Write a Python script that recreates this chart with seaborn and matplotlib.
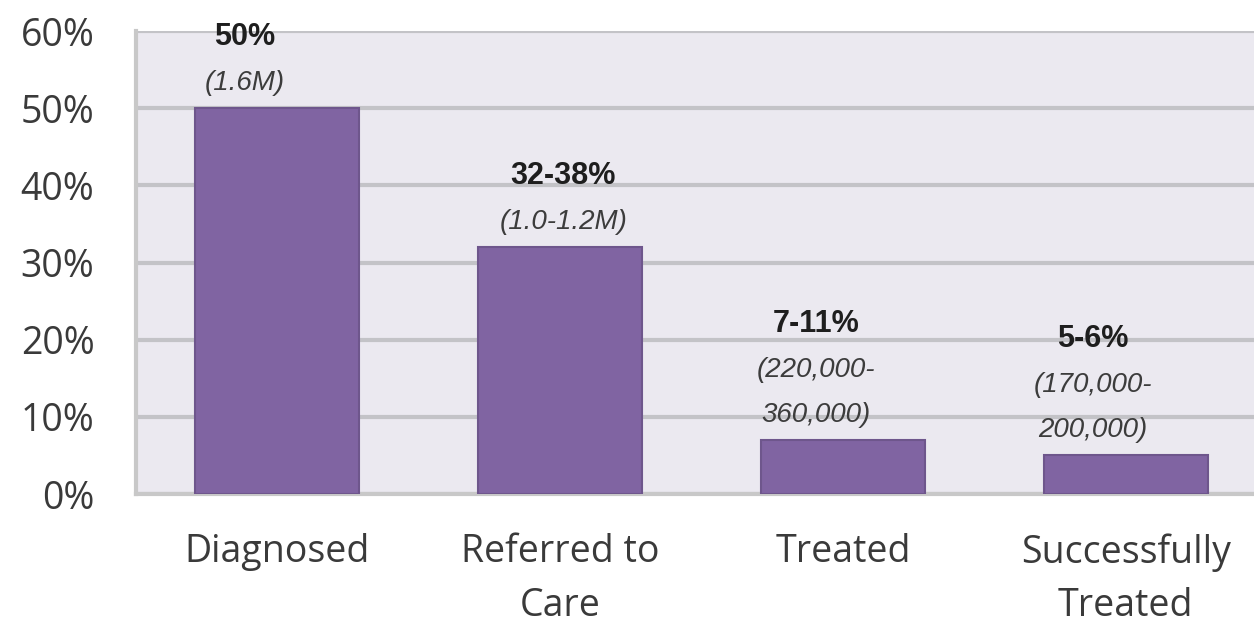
import matplotlib
matplotlib.use("Agg")
import matplotlib.pyplot as plt
import pandas as pd
import seaborn as sns
from matplotlib.ticker import FixedLocator, PercentFormatter

# data
stages = ["Diagnosed", "Referred to\nCare", "Treated", "Successfully\nTreated"]
share = [50, 32, 7, 5]
share_labels = ["50%", "32-38%", "7-11%", "5-6%"]
count_labels = ["(1.6M)", "(1.0-1.2M)", "(220,000-\n360,000)", "(170,000-\n200,000)"]

# horizontal nudge of each annotation, in pixels
label_dx = [-33, 3, -27, -33]

df = pd.DataFrame({"stage": stages, "share": share})

sns.set_style("white")
plt.rcParams["font.family"] = ["Open Sans", "DejaVu Sans"]

fig = plt.figure(figsize=(12.54, 6.35), dpi=100)
ax = fig.add_axes([0.1085, 0.222, 0.902, 0.729])
ax.set_facecolor("#ebe9f0")

sns.barplot(data=df, x="stage", y="share", color="#8064a2", width=0.58,
            edgecolor="#6e568c", linewidth=1.5, saturation=1, ax=ax, zorder=3)

ax.set_ylim(0, 60)
ax.set_xlim(-0.5, 3.5)
ax.yaxis.set_major_locator(FixedLocator(range(0, 61, 10)))
ax.yaxis.set_major_formatter(PercentFormatter(decimals=0))
ax.grid(axis="y", color="#c3c3c7", linewidth=3, zorder=0)
ax.set_axisbelow(True)

for side in ["top", "right"]:
    ax.spines[side].set_visible(False)
for side in ["left", "bottom"]:
    ax.spines[side].set_color("#c8c8c8")
    ax.spines[side].set_linewidth(3)

ax.tick_params(axis="y", length=10, width=3, color="#c8c8c8", pad=20,
               labelsize=27, labelcolor="#3a3a3a")
ax.tick_params(axis="x", which="major", length=0, pad=28,
               labelsize=27, labelcolor="#3a3a3a")
ax.xaxis.set_minor_locator(FixedLocator([0.5, 1.5, 2.5]))
ax.tick_params(axis="x", which="minor", length=14, width=3, color="#c8c8c8")
ax.set_xlabel("")
ax.set_ylabel("")
for lbl in ax.get_xticklabels():
    lbl.set_linespacing(1.55)

# value labels: italic counts stacked above the bar, bold share on top
ann_font = ["Liberation Sans", "DejaVu Sans"]
for i, (v, top, sub) in enumerate(zip(share, share_labels, count_labels)):
    dy = 25
    for line in reversed(sub.split("\n")):
        ax.annotate(line, xy=(i, v), xytext=(label_dx[i], dy), textcoords="offset pixels",
                    ha="center", va="center", fontsize=20, fontstyle="italic",
                    family=ann_font, color="#3c3c3c")
        dy += 45
    ax.annotate(top, xy=(i, v), xytext=(label_dx[i], dy + 1), textcoords="offset pixels",
                ha="center", va="center", fontsize=22, fontweight="bold",
                family=ann_font, color="#1e1e1e")

fig.savefig("out.png", dpi=100)
